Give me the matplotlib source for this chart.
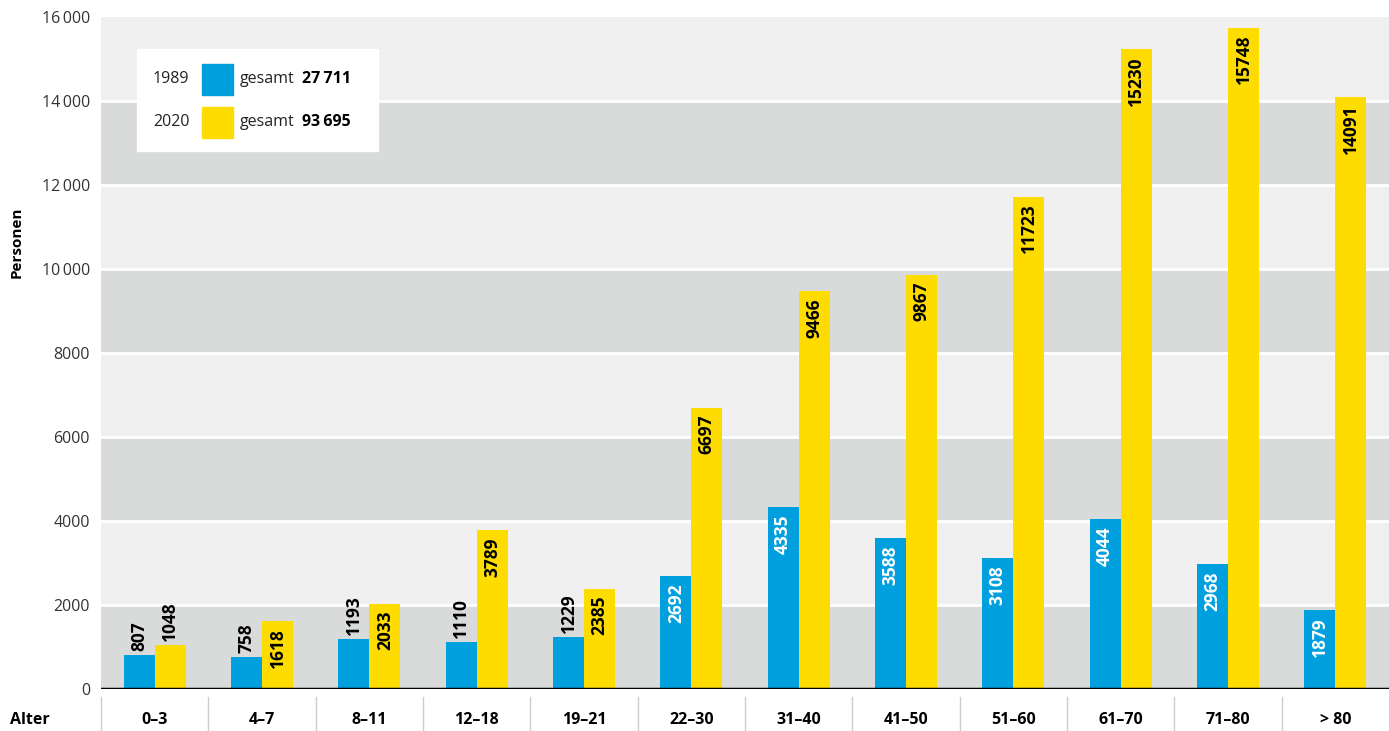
import matplotlib
matplotlib.use('Agg')
import matplotlib.pyplot as plt
from matplotlib.transforms import blended_transform_factory
import numpy as np

plt.rcParams['font.family'] = ['Open Sans', 'DejaVu Sans']

categories = ['0–3', '4–7', '8–11', '12–18', '19–21', '22–30', '31–40',
              '41–50', '51–60', '61–70', '71–80', '> 80']
v1989 = [807, 758, 1193, 1110, 1229, 2692, 4335, 3588, 3108, 4044, 2968, 1879]
v2020 = [1048, 1618, 2033, 3789, 2385, 6697, 9466, 9867, 11723, 15230, 15748, 14091]
yticks = [0, 2000, 4000, 6000, 8000, 10000, 12000, 14000, 16000]
ytick_labels = ['0', '2000', '4000', '6000', '8000', '10\u2009000', '12\u2009000', '14\u2009000', '16\u2009000']

blue = '#00A0DF'
yellow = '#FFDC00'
band_dark = '#D9DADA'
band_light = '#F0F0F0'

W, H = 1389, 731
fig = plt.figure(figsize=(W / 100, H / 100), dpi=100)
ax = fig.add_axes([101 / W, (H - 689) / H, 1288 / W, 672 / H])

# background bands
for i in range(len(yticks) - 1):
    c = band_dark if i % 2 == 0 else band_light
    ax.axhspan(yticks[i], yticks[i + 1], color=c, lw=0, zorder=0)
for t in yticks[1:-1]:
    ax.axhline(t, color='white', lw=2, zorder=1)

x = np.arange(len(categories))
bw = 0.289
ax.bar(x - bw / 2, v1989, bw, color=blue, zorder=2)
ax.bar(x + bw / 2, v2020, bw, color=yellow, zorder=2)
ax.axhline(0, color='black', lw=2.5, zorder=3)

# value labels
thresh = 1500
pad_in = 170
pad_out = 100
def label(xi, v, inside_color):
    if v > thresh:
        ax.text(xi, v - pad_in, str(v), rotation=90, ha='center', va='top',
                color=inside_color, fontsize=12.5, fontweight='bold', zorder=4)
    else:
        ax.text(xi, v + pad_out, str(v), rotation=90, ha='center', va='bottom',
                color='black', fontsize=12.5, fontweight='bold', zorder=4)

for xi, v in zip(x - bw / 2, v1989):
    label(xi, v, 'white')
for xi, v in zip(x + bw / 2, v2020):
    label(xi, v, 'black')

ax.set_xlim(-0.5, len(categories) - 0.5)
ax.set_ylim(0, 16000)
ax.set_yticks(yticks)
ax.set_yticklabels(ytick_labels, fontsize=11.5, color='#333333')
ax.tick_params(axis='y', length=0, pad=8)
ax.set_xticks([])
for s in ax.spines.values():
    s.set_visible(False)

# category labels and separators under axis
tr = blended_transform_factory(ax.transData, fig.transFigure)
for i, c in enumerate(categories):
    ax.text(i, (H - 720) / H, c, transform=tr, ha='center', va='center',
            fontsize=11.5, fontweight='bold', color='black', clip_on=False)
for b in np.arange(-0.5, len(categories) - 0.5, 1.0):
    ax.plot([b, b], [(H - 697) / H, 0], transform=tr, color='#CCCCCC',
            lw=1, clip_on=False)
fig.text(10 / W, (H - 720) / H, 'Alter', ha='left', va='center',
         fontsize=11.5, fontweight='bold')
fig.text(17 / W, (H - 242) / H, 'Personen', rotation=90, ha='center',
         va='center', fontsize=11, fontweight='bold')

# legend box
lx0, ly0, lx1, ly1 = 137, 49, 378, 151
fig.patches.append(plt.Rectangle((lx0 / W, (H - ly1) / H), (lx1 - lx0) / W,
                                 (ly1 - ly0) / H, transform=fig.transFigure,
                                 color='white', zorder=5))
rows = [('1989', blue, '27\u2009711', 79), ('2020', yellow, '93\u2009695', 122)]
for year, col, total, yc in rows:
    fig.text(153 / W, (H - yc) / H, year, ha='left', va='center',
             fontsize=11.5, color='#222222', zorder=6)
    fig.patches.append(plt.Rectangle((202 / W, (H - yc - 15.5) / H), 31 / W,
                                     31 / H, transform=fig.transFigure,
                                     color=col, zorder=6))
    fig.text(240 / W, (H - yc) / H, 'gesamt', ha='left', va='center',
             fontsize=11.5, color='#222222', zorder=6)
    fig.text(302 / W, (H - yc) / H, total, ha='left', va='center',
             fontsize=11.5, fontweight='bold', color='black', zorder=6)

fig.savefig('out.png', dpi=100)
